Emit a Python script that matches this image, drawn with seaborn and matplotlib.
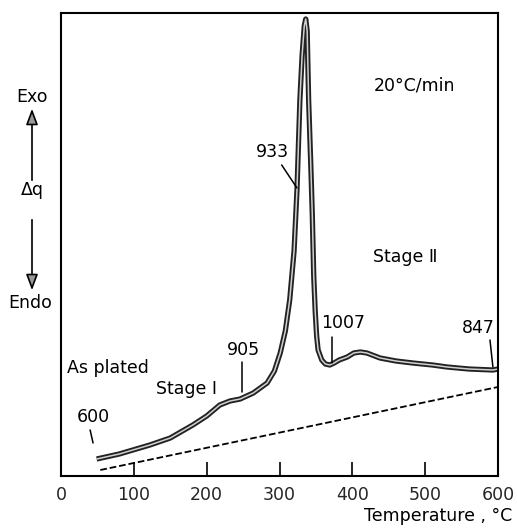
import matplotlib
matplotlib.use("Agg")
import matplotlib.pyplot as plt
import seaborn as sns
import pandas as pd

# ---- data ----
temp = [49, 80, 122, 150, 181, 200, 218, 232, 246, 264, 283, 293, 301, 308, 314,
        320, 324, 328, 331, 334, 336, 338, 340, 343, 345, 347, 349, 351, 353, 358,
        363, 369, 375, 382, 393, 402, 411, 420, 438, 460, 483, 510, 530, 560, 593, 600]
dq = [17, 22, 31, 38, 51, 60, 71, 75, 77, 83, 93, 105, 123, 145, 176,
      225, 286, 376, 420, 450, 457, 445, 376, 310, 262, 200, 165, 140, 126, 116,
      112, 111, 113, 116, 119, 123, 124, 123, 118, 115, 113, 111, 109, 107, 106, 107]
base_temp = [54, 600]
base_dq = [6, 89]
xticks = [0, 100, 200, 300, 400, 500, 600]

curve = pd.DataFrame({"T": temp, "dq": dq})
base = pd.DataFrame({"T": base_temp, "dq": base_dq})

sns.set_theme(style="white")
plt.rcParams["font.family"] = ["DejaVu Sans"]

W, H = 517, 528
fig = plt.figure(figsize=(W / 100, H / 100), dpi=100)
ax = fig.add_axes([61 / W, 1 - 476 / H, (498 - 61) / W, (476 - 13) / H])

sns.lineplot(data=curve, x="T", y="dq", ax=ax, color="#222222", lw=3.8, sort=False,
             solid_capstyle="butt")
sns.lineplot(data=curve, x="T", y="dq", ax=ax, color="#d0d0d0", lw=1.1, sort=False,
             solid_capstyle="butt")
sns.lineplot(data=base, x="T", y="dq", ax=ax, color="black", lw=1.3, dashes=(6, 4),
             linestyle="--")

ax.set_xlim(0, 600)
ax.set_ylim(0, 463)
ax.set_xticks(xticks)
ax.set_xticklabels([str(t) for t in xticks])
ax.set_yticks([])
ax.set_xlabel("")
ax.set_ylabel("")
ax.tick_params(axis="x", direction="in", length=10, width=1.2, color="black",
               labelsize=12.5, pad=7, bottom=True)
for s in ax.spines.values():
    s.set_color("black")
    s.set_linewidth(1.5)

fs = 12.5
txt = dict(fontsize=fs, color="black")
ax.text(486, 391, "20°C/min", ha="center", va="center", **txt)
ax.text(472, 219, "Stage Ⅱ", ha="center", va="center", **txt)
ax.text(387, 153, "1007", ha="center", va="center", **txt)
ax.text(573, 148, "847", ha="center", va="center", **txt)
ax.text(290, 324, "933", ha="center", va="center", **txt)
ax.text(251, 126, "905", ha="center", va="center", **txt)
ax.text(172, 87, "Stage I", ha="center", va="center", **txt)
ax.text(8, 108, "As plated", ha="left", va="center", **txt)
ax.text(44, 59, "600", ha="center", va="center", **txt)

lk = dict(color="black", lw=1.1)
ax.plot([372, 372], [139, 113], **lk)
ax.plot([589, 593], [136, 109], **lk)
ax.plot([303, 324], [311, 288], **lk)
ax.plot([249, 249], [114, 84], **lk)
ax.plot([40, 44], [46, 33], **lk)


def fp(x, y):
    return (x / W, 1 - y / H)


fig.text(*fp(32, 97), "Exo", ha="center", va="center", **txt)
fig.text(*fp(32, 190), "Δq", ha="center", va="center", **txt)
fig.text(*fp(30, 303), "Endo", ha="center", va="center", **txt)
ap = dict(arrowstyle="-|>,head_length=0.8,head_width=0.3", fc="#999999", ec="black", lw=1.2)
fig.add_artist(matplotlib.patches.FancyArrowPatch(fp(32, 183), fp(32, 106),
               transform=fig.transFigure, **ap, mutation_scale=12))
fig.add_artist(matplotlib.patches.FancyArrowPatch(fp(32, 217), fp(32, 293),
               transform=fig.transFigure, **ap, mutation_scale=12))

fig.text(*fp(512, 516), "Temperature , °C", ha="right", va="center", **txt)

fig.savefig("out.png", dpi=100)
